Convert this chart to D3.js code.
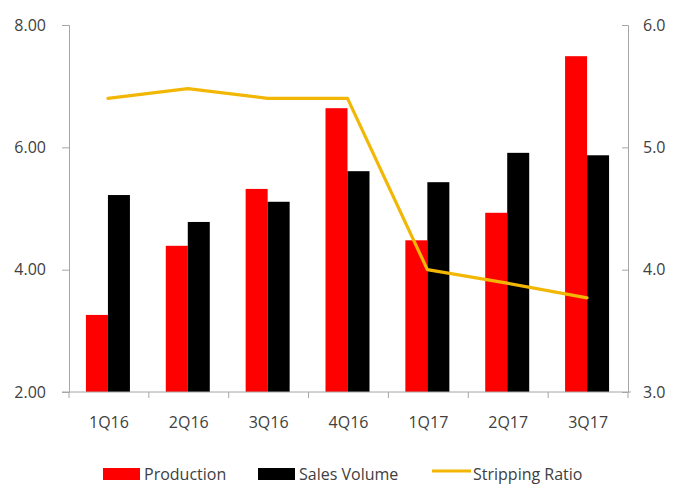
<!DOCTYPE html>
<html>
<head>
<meta charset="utf-8">
<script src="https://cdn.jsdelivr.net/npm/d3@7"></script>
<style>
  html, body { margin: 0; padding: 0; background: #fff; }
  svg text { font-family: "Open Sans", "Noto Sans", sans-serif; fill: #404040; }
</style>
</head>
<body>
<svg id="chart" width="681" height="484"></svg>
<script>
// Quarterly production, sales volume and stripping ratio
const quarters = ["1Q16", "2Q16", "3Q16", "4Q16", "1Q17", "2Q17", "3Q17"];
const production = [3.26, 4.39, 5.32, 6.64, 4.48, 4.93, 7.49];
const salesVolume = [5.22, 4.78, 5.11, 5.61, 5.43, 5.91, 5.87];
const strippingRatio = [5.40, 5.48, 5.40, 5.40, 4.00, 3.89, 3.77];
const leftTicks = [2, 4, 6, 8];
const rightTicks = [3, 4, 5, 6];

const svg = d3.select("#chart");
const plotLeft = 69, plotRight = 628, plotTop = 25, plotBottom = 392;

const x = d3.scaleBand().domain(quarters).range([plotLeft, plotRight]);
const yL = d3.scaleLinear().domain([2, 8]).range([plotBottom, plotTop]);
const yR = d3.scaleLinear().domain([3, 6]).range([plotBottom, plotTop]);
const barW = 22;
const axisColor = "#a6a6a6";
const gold = "#f2b705";

// bars
const g = svg.append("g");
g.selectAll("rect.prod").data(quarters).join("rect")
  .attr("class", "prod")
  .attr("x", d => x(d) + x.bandwidth() / 2 - barW - 1)
  .attr("y", (d, i) => yL(production[i]))
  .attr("width", barW)
  .attr("height", (d, i) => yL(2) - yL(production[i]))
  .attr("fill", "#ff0000");
g.selectAll("rect.sales").data(quarters).join("rect")
  .attr("class", "sales")
  .attr("x", d => x(d) + x.bandwidth() / 2 - 1)
  .attr("y", (d, i) => yL(salesVolume[i]))
  .attr("width", barW)
  .attr("height", (d, i) => yL(2) - yL(salesVolume[i]))
  .attr("fill", "#000000");

// left axis
const axL = svg.append("g").attr("transform", `translate(${plotLeft},0)`)
  .call(d3.axisLeft(yL).tickValues(leftTicks).tickFormat(d3.format(".2f")).tickSize(7).tickPadding(16));
// right axis
const axR = svg.append("g").attr("transform", `translate(${plotRight},0)`)
  .call(d3.axisRight(yR).tickValues(rightTicks).tickFormat(d3.format(".1f")).tickSize(-6).tickPadding(15));
// bottom axis with ticks at category boundaries
const axB = svg.append("g").attr("transform", `translate(0,${plotBottom})`)
  .call(d3.axisBottom(x).tickSize(0).tickPadding(25));

[axL, axR, axB].forEach(a => {
  a.select(".domain").attr("stroke", axisColor);
  a.selectAll(".tick line").attr("stroke", axisColor);
  a.selectAll("text").style("font-size", "16px").attr("fill", "#404040");
});
axB.select(".domain").remove();
svg.append("line").attr("x1", plotLeft - 7).attr("x2", plotRight + 3)
  .attr("y1", plotBottom).attr("y2", plotBottom).attr("stroke", axisColor);
const bounds = quarters.map(d => x(d)).concat([plotRight]);
svg.append("g").selectAll("line").data(bounds).join("line")
  .attr("x1", d => d).attr("x2", d => d)
  .attr("y1", plotBottom).attr("y2", plotBottom + 6)
  .attr("stroke", axisColor);

// stripping ratio line
const line = d3.line()
  .x((d, i) => x(quarters[i]) + x.bandwidth() / 2 - 1)
  .y(d => yR(d));
svg.append("path").datum(strippingRatio)
  .attr("d", line)
  .attr("fill", "none")
  .attr("stroke", gold)
  .attr("stroke-width", 3.2)
  .attr("stroke-linecap", "round")
  .attr("stroke-linejoin", "round");

// legend
const lg = svg.append("g");
lg.append("rect").attr("x", 103).attr("y", 468).attr("width", 37).attr("height", 12).attr("fill", "#ff0000");
lg.append("text").attr("x", 144).attr("y", 480).style("font-size", "16px").text("Production");
lg.append("rect").attr("x", 258).attr("y", 468).attr("width", 37).attr("height", 12).attr("fill", "#000");
lg.append("text").attr("x", 299).attr("y", 480).style("font-size", "16px").text("Sales Volume");
lg.append("line").attr("x1", 432).attr("x2", 471).attr("y1", 471).attr("y2", 471)
  .attr("stroke", gold).attr("stroke-width", 3);
lg.append("text").attr("x", 473).attr("y", 480).style("font-size", "16px").text("Stripping Ratio");
</script>
</body>
</html>
